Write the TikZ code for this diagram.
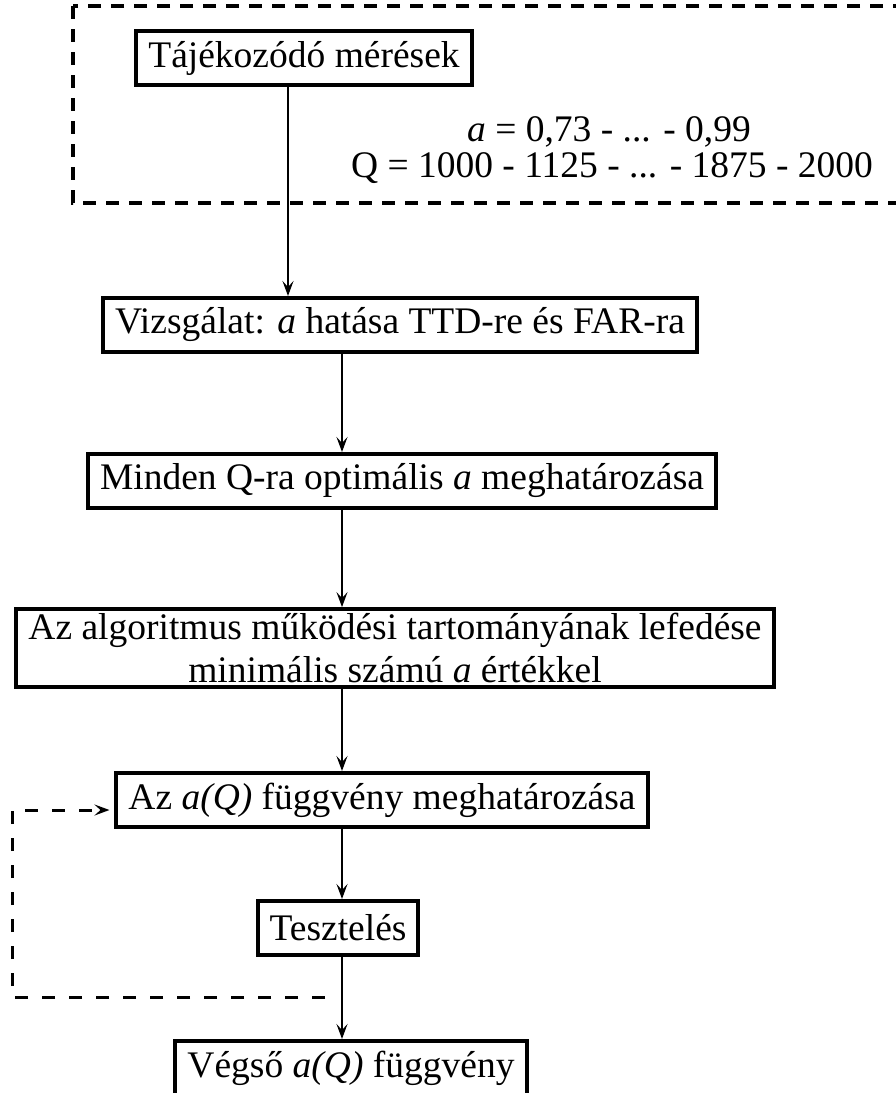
\documentclass[tikz,border=0pt]{standalone}
\usepackage{fontspec}
\setmainfont{Liberation Serif}
\usetikzlibrary{arrows.meta}

\begin{document}
\begin{tikzpicture}[x=1pt, y=-1pt, >={Stealth[length=15pt, width=11pt, inset=6pt]},
  font=\fontsize{37.5}{43}\selectfont,
  stepbox/.style={draw, line width=4pt, inner xsep=12pt, inner ysep=4pt, minimum height=54pt},
  arr/.style={->, line width=2pt},
  fback/.style={->, line width=3pt, dash pattern=on 13pt off 14pt, shorten >=5pt},
  frame/.style={line width=4pt, dash pattern=on 13pt off 10pt}]
  \useasboundingbox (0,0) rectangle (896,1093);
  % dashed frame round the first step
  \draw[frame] (73,6) rectangle (925,203);
  \node[stepbox] (taj) at (304,58) {Tájékozódó mérések};
  \node[inner sep=0pt] (arange) at (609,132) {\textit{a} = 0,73 - ... - 0,99};
  \node[inner sep=0pt] (qrange) at (612,168) {Q = 1000 - 1125 - ... - 1875 - 2000};

  % main steps
  \node[stepbox] (vizs) at (400,325) {Vizsgálat: \textit{a} hatása TTD-re és FAR-ra};
  \node[stepbox] (minden) at (402,481) {Minden Q-ra optimális \textit{a} meghatározása};
  \node[stepbox, align=center] (algo) at (395,648) {Az algoritmus működési tartományának lefedése\\
    minimális számú \textit{a} értékkel};
  \node[stepbox] (afq) at (382,800) {Az \textit{a(Q)} függvény meghatározása};
  \node[stepbox] (teszt) at (338,928) {Tesztelés};
  \node[stepbox] (vegso) at (351,1068) {Végső \textit{a(Q)} függvény};

  \coordinate (spine) at (342,0);
  \draw[arr] ([xshift=-16pt]taj.south) -- ([xshift=-16pt]taj.south |- vizs.north);
  \draw[arr] (vizs.south -| spine) -- (minden.north -| spine);
  \draw[arr] (minden.south -| spine) -- (algo.north -| spine);
  \draw[arr] (algo.south -| spine) -- (afq.north -| spine);
  \draw[arr] (afq.south -| spine) -- (teszt.north -| spine);
  \draw[arr] (teszt.south -| spine) -- (vegso.north -| spine);

  % feedback loop
  \coordinate (fbstart) at (325,997);
  \coordinate (fbcorner) at (12,997);
  \draw[fback] (fbstart) -- (fbcorner) |- ([yshift=-10pt]afq.west);
\end{tikzpicture}
\end{document}
